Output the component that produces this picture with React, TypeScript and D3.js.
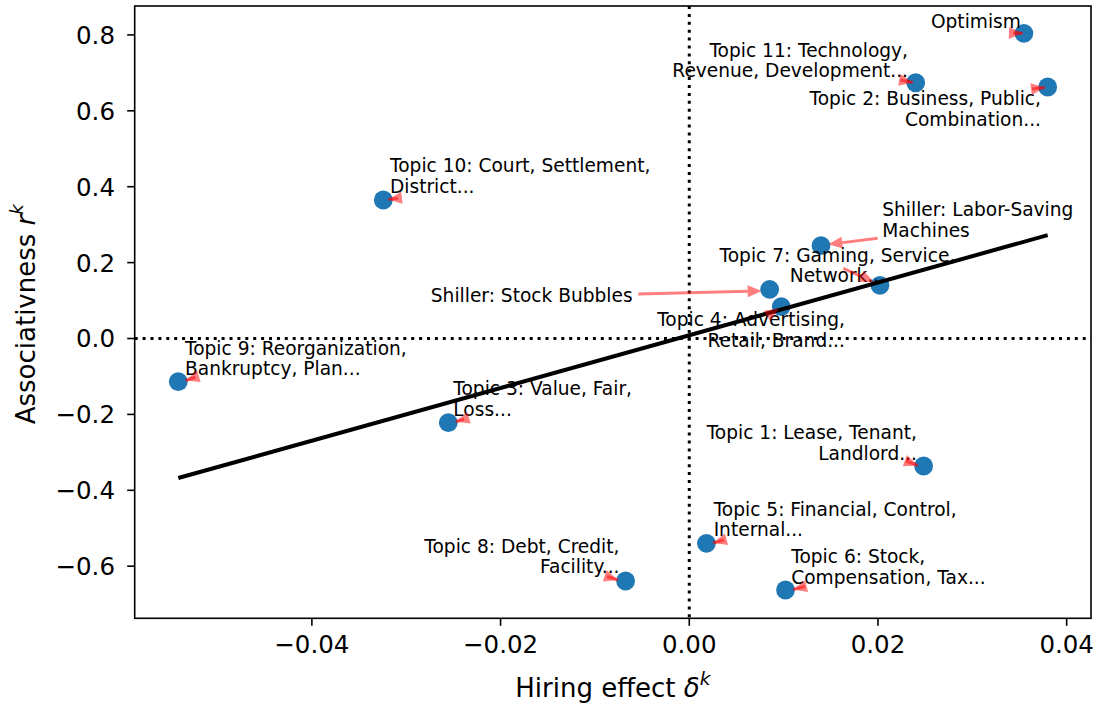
import React from "react";
import * as d3 from "d3";

// ---------- data ----------
const NAMES = [
  "Optimism", "Topic 11", "Topic 2", "Topic 10", "Shiller Labor", "Topic 7", "Shiller Stock",
  "Topic 4", "Topic 9", "Topic 3", "Topic 1", "Topic 5", "Topic 8", "Topic 6",
];
const HIRING = [
  0.03547, 0.024, 0.03799, -0.03243, 0.01396, 0.02021, 0.00852,
  0.00975, -0.05416, -0.02554, 0.02484, 0.00182, -0.00675, 0.0102,
];
const ASSOC = [
  0.8042, 0.674, 0.6627, 0.365, 0.2445, 0.1402, 0.1296,
  0.0838, -0.1138, -0.2219, -0.336, -0.5397, -0.639, -0.6627,
];
const LABELS = [
  ["Optimism"],
  ["Topic 11: Technology,", "Revenue, Development..."],
  ["Topic 2: Business, Public,", "Combination..."],
  ["Topic 10: Court, Settlement,", "District..."],
  ["Shiller: Labor-Saving", "Machines"],
  ["Topic 7: Gaming, Service,", "Network..."],
  ["Shiller: Stock Bubbles"],
  ["Topic 4: Advertising,", "Retail, Brand..."],
  ["Topic 9: Reorganization,", "Bankruptcy, Plan..."],
  ["Topic 3: Value, Fair,", "Loss..."],
  ["Topic 1: Lease, Tenant,", "Landlord..."],
  ["Topic 5: Financial, Control,", "Internal..."],
  ["Topic 8: Debt, Credit,", "Facility..."],
  ["Topic 6: Stock,", "Compensation, Tax..."],
];
const X_TICKS = [-0.04, -0.02, 0.0, 0.02, 0.04];
const Y_TICKS = [-0.6, -0.4, -0.2, 0.0, 0.2, 0.4, 0.6, 0.8];
const X_LIMITS = [-0.05878, 0.04258];
const Y_LIMITS = [-0.7373, 0.8762];

// ---------- layout (pixel offsets of label text / arrow relative to point) ----------
type Lay = { anchor: string; dx: number; dy: number; sx: number; sy: number; ex: number; ey: number };
const LABEL_LAYOUT: Lay[] = [
  { anchor: "end", dx: -3, dy: -11.6, sx: -11, sy: -0.3, ex: -1, ey: 0 },
  { anchor: "end", dx: -7.7, dy: -32.7, sx: -15.7, sy: -2.7, ex: -2.7, ey: -0.2 },
  { anchor: "end", dx: -6.7, dy: 11.3, sx: -15.7, sy: 2, ex: -2.7, ey: 0.5 },
  { anchor: "start", dx: 6.7, dy: -34.5, sx: 14.7, sy: -1.7, ex: 4.7, ey: -0.5 },
  { anchor: "start", dx: 61.3, dy: -36.4, sx: 56.7, sy: -7.4, ex: 7.3, ey: -1.4 },
  { anchor: "middle", dx: -42.5, dy: -30.3, sx: -36.7, sy: -17, ex: -6, ey: -3.3 },
  { anchor: "end", dx: -137, dy: 5.7, sx: -131.4, sy: 4.7, ex: -8, ey: 1.7 },
  { anchor: "end", dx: 63.7, dy: 12.8, sx: -14.3, sy: 9.3, ex: -2.3, ey: 1.8 },
  { anchor: "start", dx: 6.7, dy: -33.4, sx: 17.2, sy: -4.4, ex: 7.2, ey: -1.2 },
  { anchor: "start", dx: 5, dy: -34.4, sx: 15.7, sy: -3.4, ex: 7.2, ey: -0.9 },
  { anchor: "end", dx: -6.7, dy: -33.7, sx: -17.7, sy: -5, ex: -5.7, ey: -0.5 },
  { anchor: "start", dx: 7.2, dy: -34.3, sx: 17.5, sy: -3.3, ex: 6.5, ey: -0.3 },
  { anchor: "end", dx: -6.1, dy: -35, sx: -18.6, sy: -4.5, ex: -7.6, ey: -1 },
  { anchor: "start", dx: 5.7, dy: -33.3, sx: 19.5, sy: -3.5, ex: 7.5, ey: -0.5 },
];

const W = 1101;
const H = 706;
const PLOT = { left: 134.7, right: 1091, top: 6, bottom: 618.3 };
const FONT = "'DejaVu Sans', sans-serif";
const TICK_FS = 24.5;
const LABEL_FS = 26;
const ANN_FS = 18.6;
const LINE_STEP = 20.5;
const HEAD_L = 14;
const HEAD_W = 12;

function fmtX(v: number) {
  const s = Math.abs(v).toFixed(2);
  return v < -1e-9 ? "\u2212" + s : s;
}
function fmtY(v: number) {
  const s = Math.abs(v).toFixed(1);
  return v < -1e-9 ? "\u2212" + s : s;
}

export default function App() {
  const x = d3.scaleLinear().domain(X_LIMITS).range([PLOT.left, PLOT.right]);
  const y = d3.scaleLinear().domain(Y_LIMITS).range([PLOT.bottom, PLOT.top]);

  // OLS fit
  const mx = d3.mean(HIRING)!;
  const my = d3.mean(ASSOC)!;
  let sxy = 0;
  let sxx = 0;
  HIRING.forEach((v, i) => {
    sxy += (v - mx) * (ASSOC[i] - my);
    sxx += (v - mx) * (v - mx);
  });
  const slope = sxy / sxx;
  const icpt = my - slope * mx;
  const [xmin, xmax] = d3.extent(HIRING) as [number, number];
  const fitLine = d3.line<number>().x((d) => x(d)).y((d) => y(icpt + slope * d));

  const arrows = HIRING.map((v, i) => {
    const px = x(v);
    const py = y(ASSOC[i]);
    const L = LABEL_LAYOUT[i];
    const S = [px + L.sx, py + L.sy];
    const T = [px + L.ex, py + L.ey];
    const len = Math.hypot(T[0] - S[0], T[1] - S[1]);
    const ux = (T[0] - S[0]) / len;
    const uy = (T[1] - S[1]) / len;
    const nx = -uy;
    const ny = ux;
    const B = [T[0] - HEAD_L * ux, T[1] - HEAD_L * uy];
    const head = `M${T[0]},${T[1]}L${B[0] + (nx * HEAD_W) / 2},${B[1] + (ny * HEAD_W) / 2}L${B[0] - (nx * HEAD_W) / 2},${B[1] - (ny * HEAD_W) / 2}Z`;
    const shaftEnd = len > HEAD_L ? B : T;
    return { S, shaftEnd, head, key: i };
  });

  return (
    <svg
      width={W}
      height={H}
      style={{ position: "absolute", left: 0, top: 0, background: "#fff" }}
      fontFamily={FONT}
    >
      <rect x={0} y={0} width={W} height={H} fill="#fff" />
      {/* points */}
      {HIRING.map((v, i) => (
        <circle key={NAMES[i]} cx={x(v)} cy={y(ASSOC[i])} r={9.4} fill="#1f77b4" />
      ))}
      {/* zero lines */}
      <line
        x1={x(0)} x2={x(0)} y1={PLOT.top} y2={PLOT.bottom}
        stroke="#000" strokeWidth={3} strokeDasharray="3 4.9"
      />
      <line
        x1={PLOT.left} x2={PLOT.right} y1={y(0)} y2={y(0)}
        stroke="#000" strokeWidth={3} strokeDasharray="3 4.9"
      />
      {/* regression line */}
      <path d={fitLine([xmin, xmax])!} stroke="#000" strokeWidth={4} fill="none" />
      {/* labels */}
      {HIRING.map((v, i) => {
        const L = LABEL_LAYOUT[i];
        const px = x(v) + L.dx;
        const py = y(ASSOC[i]) + L.dy + 6.7;
        return (
          <text key={"t" + i} fontSize={ANN_FS} textAnchor={L.anchor} fill="#000">
            {LABELS[i].map((ln, j) => (
              <tspan key={j} x={px} y={py + j * LINE_STEP}>
                {ln}
              </tspan>
            ))}
          </text>
        );
      })}
      {/* arrows */}
      {arrows.map((a) => (
        <g key={"a" + a.key}>
          <line
            x1={a.S[0]} y1={a.S[1]} x2={a.shaftEnd[0]} y2={a.shaftEnd[1]}
            stroke="red" strokeOpacity={0.5} strokeWidth={3}
          />
          <path d={a.head} fill="red" fillOpacity={0.5} />
        </g>
      ))}
      {/* frame */}
      <rect
        x={PLOT.left} y={PLOT.top}
        width={PLOT.right - PLOT.left} height={PLOT.bottom - PLOT.top}
        fill="none" stroke="#000" strokeWidth={1.6}
      />
      {/* x ticks */}
      {X_TICKS.map((t) => (
        <g key={"xt" + t}>
          <line x1={x(t)} x2={x(t)} y1={PLOT.bottom} y2={PLOT.bottom + 7.5} stroke="#000" strokeWidth={1.6} />
          <text x={x(t)} y={653} fontSize={TICK_FS} textAnchor="middle" fill="#000">
            {fmtX(t)}
          </text>
        </g>
      ))}
      {/* y ticks */}
      {Y_TICKS.map((t) => (
        <g key={"yt" + t}>
          <line x1={PLOT.left - 7.5} x2={PLOT.left} y1={y(t)} y2={y(t)} stroke="#000" strokeWidth={1.6} />
          <text x={115} y={y(t) + 8.9} fontSize={TICK_FS} textAnchor="end" fill="#000">
            {fmtY(t)}
          </text>
        </g>
      ))}
      {/* axis labels */}
      <text x={(PLOT.left + PLOT.right) / 2} y={697} fontSize={LABEL_FS} textAnchor="middle" fill="#000">
        Hiring effect <tspan fontStyle="italic">δ</tspan>
        <tspan fontStyle="italic" fontSize={18.5} dy={-12}>k</tspan>
      </text>
      <text
        transform={`translate(35,${(PLOT.top + PLOT.bottom) / 2 + 2}) rotate(-90)`}
        fontSize={LABEL_FS} textAnchor="middle" fill="#000"
      >
        Associativness <tspan fontStyle="italic">r</tspan>
        <tspan fontStyle="italic" fontSize={18.5} dy={-12}>k</tspan>
      </text>
    </svg>
  );
}
